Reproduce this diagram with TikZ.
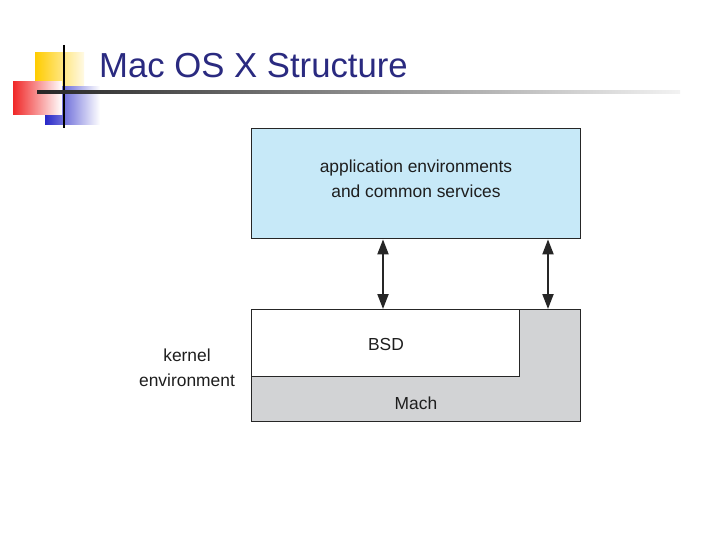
\documentclass[tikz,border=0pt]{standalone}
\usepackage{fontspec}
\setmainfont{Liberation Sans}
\usetikzlibrary{arrows.meta}
\definecolor{appblue}{RGB}{199,233,248}
\definecolor{machgray}{RGB}{210,211,213}
\definecolor{titleblue}{RGB}{42,42,128}
\definecolor{deco yellow}{RGB}{255,204,0}
\definecolor{decored}{RGB}{240,40,40}
\definecolor{decoblue}{RGB}{40,40,200}
\definecolor{txtgray}{RGB}{30,30,30}
\begin{document}
\begin{tikzpicture}[x=1pt,y=-1pt,
  boxstyle/.style={draw=black!85,line width=1.4pt,inner sep=0pt,anchor=north west},
  lbl/.style={font=\fontsize{17.4}{25}\selectfont,text=txtgray,align=center},
  biarrow/.style={{Triangle[length=15pt,width=11pt]}-{Triangle[length=15pt,width=11pt]},line width=2pt,draw=black!85}]
\useasboundingbox (0,0) rectangle (720,540);
\fill[white] (0,0) rectangle (720,540);
% decoration
\shade[left color=deco yellow,right color=deco yellow!10] (35,53) rectangle (84,100);
\shade[left color=decoblue,right color=white] (45,87) rectangle (100,125);
\shade[left color=decored,right color=white] (13,82) rectangle (62,115);
\draw[line width=1.6pt] (64,45) -- (64,128);
\shade[left color=black!85,right color=black!5] (37,90.8) rectangle (680,93.2);
% title
\node[anchor=base west,inner sep=0pt,text=titleblue,font=\fontsize{34.7}{40}\selectfont] (title) at (99,78) {Mac OS X Structure};
% boxes
\node[boxstyle,fill=appblue,minimum width=329pt,minimum height=110pt] (app) at (251,128) {};
\node[lbl] (apptext) at (416,179) {application environments\\and common services};
\node[boxstyle,fill=machgray,minimum width=329pt,minimum height=112pt] (mach) at (251,309) {};
\node[boxstyle,fill=white,minimum width=268pt,minimum height=67pt] (bsd) at (251,309) {};
\node[lbl] (bsdtext) at (386,345) {BSD};
\node[lbl] (machtext) at (416,403) {Mach};
\node[lbl] (kernel) at (187,368) {kernel\\environment};
% arrows
\coordinate (a1) at (383,0);
\coordinate (a2) at (548,0);
\draw[biarrow] (app.south -| a1) -- (bsd.north -| a1);
\draw[biarrow] (app.south -| a2) -- (mach.north -| a2);
\end{tikzpicture}
\end{document}
